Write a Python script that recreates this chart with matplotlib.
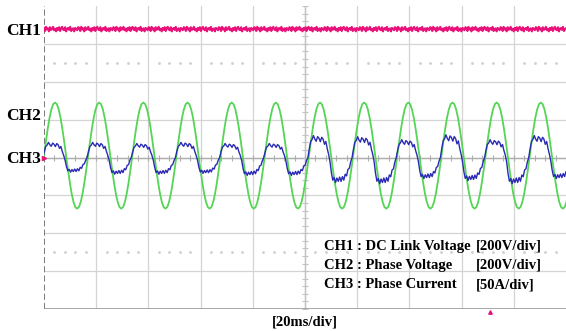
#!/usr/bin/env python3
"""Oscilloscope capture: DC link voltage, phase voltage and phase current."""

import matplotlib
matplotlib.use("Agg")
import matplotlib.pyplot as plt
import numpy as np

# screen: 10 x 8 divisions, time axis 20 ms/div
X_DIVS = 10.0
Y_DIVS = 8.0

# CH1 DC link voltage: flat level with a small noise band (div)
ch1_level = 7.39
ch1_jitter = [0.03, -0.05, 0.06, -0.01, 0.02, -0.06, 0.05, -0.02, 0.0, 0.06,
              -0.03, 0.01, -0.06, 0.03, -0.02, 0.05, -0.05, 0.02, 0.06, -0.01,
              -0.03, 0.05, -0.06, 0.01, 0.03, -0.02, 0.06, -0.05, 0.0, 0.02,
              -0.06, 0.03, 0.01, -0.03, 0.05]

# fundamental period (div) and first rising zero crossing
period_div = 0.846
first_cross = -0.846

# CH2 phase voltage: one cycle shape (normalised), offset and amplitude (div)
ch2_offset = 4.05
ch2_amp = 1.40
ch2_cycle = [0.0, 0.26, 0.5, 0.71, 0.87, 0.97, 1.0, 0.97, 0.87, 0.71, 0.5, 0.26,
             0.0, -0.26, -0.5, -0.71, -0.87, -0.97, -1.0, -0.97, -0.87, -0.71, -0.5, -0.26]

# CH3 phase current: half cycle shapes (normalised) and per cycle peaks (div)
ch3_offset = 4.0
ch3_pos_half = [0.0, 0.4, 0.73, 0.82, 1.0, 0.84, 0.74, 0.95, 0.88, 0.72, 0.92, 0.84,
                0.6, 0.73, 0.4, 0.14]
ch3_neg_half = [-0.18, -0.64, -0.95, -0.84, -1.05, -0.86, -1.0, -0.82, -1.0, -0.8,
                -0.95, -0.7, -0.77, -0.5, -0.45, -0.18]
ch3_pos_peak = [0.40, 0.40, 0.40, 0.37, 0.40, 0.37, 0.37, 0.58, 0.55, 0.47, 0.60, 0.47, 0.58]
ch3_neg_peak = [0.37, 0.37, 0.42, 0.42, 0.40, 0.45, 0.45, 0.63, 0.66, 0.53, 0.58, 0.66, 0.53]

channel_names = ["CH1", "CH2", "CH3"]
channel_label_y = [7.33, 5.09, 3.97]
legend_names = ["CH1 : DC Link Voltage", "CH2 : Phase Voltage", "CH3 : Phase Current"]
legend_scales = ["[200V/div]", "[200V/div]", "[50A/div]"]
time_scale = "[20ms/div]"

COL_CH1 = "#e8127a"
COL_CH2 = "#55d555"
COL_CH3 = "#2a2ab4"
GRID = "#d4d4d4"
FONT = "Liberation Serif"


def build_ch1():
    n = 520
    x = np.linspace(0, X_DIVS, n)
    jit = np.resize(np.array(ch1_jitter), n)
    return x, ch1_level + jit


def build_ch2():
    xs, ys = [], []
    m = len(ch2_cycle)
    for k in range(len(ch3_pos_peak)):
        start = first_cross + k * period_div
        xs.append(start + np.arange(m) * period_div / m)
        ys.append(ch2_offset + ch2_amp * np.array(ch2_cycle))
    return np.concatenate(xs), np.concatenate(ys)


def build_ch3():
    xs, ys = [], []
    shape = ch3_pos_half + ch3_neg_half
    m = len(shape)
    half = len(ch3_pos_half)
    for k, (pp, nn) in enumerate(zip(ch3_pos_peak, ch3_neg_peak)):
        start = first_cross + k * period_div - 0.02
        xs.append(start + np.arange(m) * period_div / m)
        vals = np.array(shape)
        vals[:half] *= pp
        vals[half:] *= nn
        ys.append(ch3_offset + vals)
    return np.concatenate(xs), np.concatenate(ys)


def draw_screen(ax):
    for gx in range(1, 10):
        ax.axvline(gx, color=GRID, lw=0.9, zorder=1)
    for gy in range(1, 8):
        ax.axhline(gy, color=GRID, lw=0.9, zorder=1)
    # centre cross, slightly darker, with minor ticks
    ax.axhline(4, color="#aeaeae", lw=1.0, zorder=1)
    ax.axvline(5, color="#c2c2c2", lw=1.0, zorder=1)
    minor = np.arange(0, X_DIVS + 0.01, 0.2)
    ax.plot(minor, np.full_like(minor, 4), "|", color="#aeaeae", ms=4, mew=0.8, zorder=1)
    vminor = np.arange(0, Y_DIVS + 0.01, 0.2)
    ax.plot(np.full_like(vminor, 5), vminor, "_", color="#c2c2c2", ms=4, mew=0.8, zorder=1)
    # dotted rows
    dots = np.array([d for d in np.arange(0.2, X_DIVS, 0.2) if abs(d - round(d)) > 0.05])
    for ry in (6.49, 1.5):
        ax.plot(dots, np.full_like(dots, ry), "s", color="#cfcfcf", ms=0.9, zorder=1)
    # left edge dashed, bottom edge solid
    ax.axvline(0, color="#555555", lw=1.1, dashes=(4, 2), zorder=2)
    ax.axhline(0, color="#9a9a9a", lw=1.2, zorder=2)


def main():
    fig = plt.figure(figsize=(5.66, 3.31), dpi=100)
    ax = fig.add_axes([44 / 566, 22 / 331, 522 / 566, 303 / 331])
    ax.set_xlim(0, X_DIVS)
    ax.set_ylim(0, Y_DIVS)
    ax.axis("off")

    draw_screen(ax)

    x1, y1 = build_ch1()
    ax.plot(x1, y1, color=COL_CH1, lw=1.5, zorder=4)
    x2, y2 = build_ch2()
    ax.plot(x2, y2, color=COL_CH2, lw=1.3, zorder=4)
    x3, y3 = build_ch3()
    ax.plot(x3, y3, color=COL_CH3, lw=1.0, zorder=5)

    # trigger / reference markers
    ax.plot([0.0], [4.0], marker=">", color=COL_CH1, ms=3, clip_on=False, zorder=6)
    ax.plot([8.54], [-0.07], marker="^", color=COL_CH1, ms=2.5, clip_on=False, zorder=6)

    for name, ly in zip(channel_names, channel_label_y):
        ax.text(-0.06, ly, name, ha="right", va="center", fontsize=12.5,
                fontweight="bold", family=FONT, clip_on=False)

    for i, (nm, sc) in enumerate(zip(legend_names, legend_scales)):
        ly = 1.66 - i * 0.51
        ax.text(5.37, ly, nm, ha="left", va="center", fontsize=10.5,
                fontweight="bold", family=FONT)
        ax.text(8.28, ly, sc, ha="left", va="center", fontsize=10.5,
                fontweight="bold", family=FONT)

    ax.text(5.0, -0.35, time_scale, ha="center", va="center", fontsize=10.5,
            fontweight="bold", family=FONT, clip_on=False)

    fig.savefig("out.png", dpi=100)
    plt.close(fig)


if __name__ == "__main__":
    main()
